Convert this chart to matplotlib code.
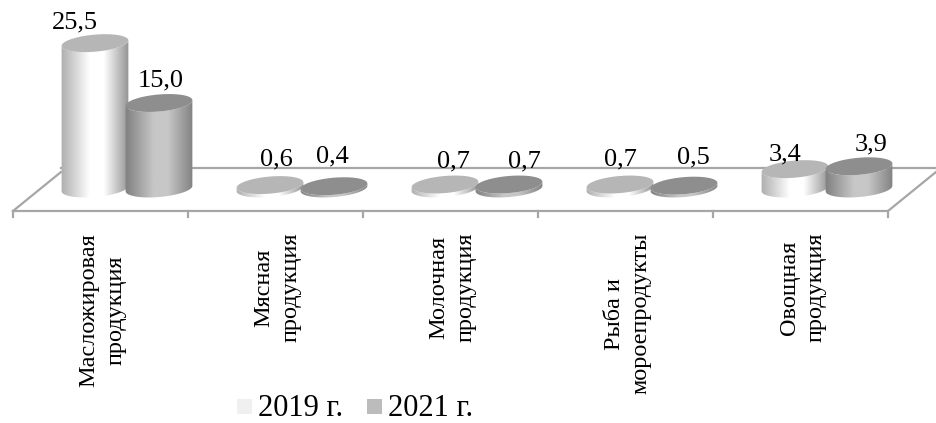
import numpy as np
import matplotlib
matplotlib.use('Agg')
import matplotlib.pyplot as plt
from matplotlib.patches import Polygon

categories = ['Масложировая\nпродукция', 'Мясная\nпродукция', 'Молочная\nпродукция',
              'Рыба и\nмороепродукты', 'Овощная\nпродукция']
series = ['2019 г.', '2021 г.']
v2019 = [25.5, 0.6, 0.7, 0.7, 3.4]
v2021 = [15.0, 0.4, 0.7, 0.5, 3.9]
labels2019 = ['25,5', '0,6', '0,7', '0,7', '3,4']
labels2021 = ['15,0', '0,4', '0,7', '0,5', '3,9']

plt.rcParams['font.family'] = ['Liberation Serif', 'DejaVu Serif']

# pixel scale of the fake 3d chart
x0 = 13.0
step = 175.0
floor_y = 188.5
px_per_unit = 5.7
rx, ry = 33.5, 8.5
tilt = np.deg2rad(-5)
shift = [-5.5, 58.5]

# label nudges (dx, dy of the baseline from cylinder top)
nudge2019 = [(-20, -15), (6, -20), (8, -17.5), (0, -19.5), (-10, -9)]
nudge2021 = [(2, -17), (-2, -24), (15, -17.5), (9, -22.6), (12, -16)]

fig = plt.figure(figsize=(9.36, 4.23), dpi=100)
ax = fig.add_axes([0, 0, 1, 1])
ax.set_xlim(0, 936)
ax.set_ylim(423, 0)
ax.axis('off')

grey = '#a6a6a6'
# floor
ax.plot([x0, x0 + 5 * step, 936], [211, 211, 172], color=grey, lw=1.6, zorder=1)
ax.plot([x0, 61], [211, 172], color=grey, lw=1.6, zorder=1)
ax.plot([61, 936], [168, 168], color=grey, lw=1.6, zorder=1)
for i in range(6):
    ax.plot([x0 + i * step] * 2, [211, 217], color=grey, lw=1.6, zorder=1)


def ellipse(cx, cy, t):
    x = rx * np.cos(t)
    y = ry * np.sin(t)
    return (cx + x * np.cos(tilt) - y * np.sin(tilt),
            cy + x * np.sin(tilt) + y * np.cos(tilt))


def cylinder(cx, h, side_l, side_r, mid, top, z):
    t = np.linspace(0, 2 * np.pi, 100)
    ty = floor_y - h
    tlow = np.linspace(np.pi, 0, 60)
    bx, by = ellipse(cx, floor_y, tlow)
    ux, uy = ellipse(cx, ty, tlow[::-1])
    body = Polygon(np.column_stack([np.r_[bx, ux], np.r_[by, uy]]), closed=True,
                   fc='none', ec='none', zorder=z)
    ax.add_patch(body)
    g = np.linspace(0, 1, 256)
    shade = np.interp(g, [0, 0.42, 0.62, 1], [side_l, mid, mid, side_r])
    im = ax.imshow(shade[None, :], extent=[cx - rx - 1, cx + rx + 1, floor_y + ry + 2, ty - ry - 6],
                   cmap='gray', vmin=0, vmax=1, aspect='auto', zorder=z, interpolation='bilinear')
    im.set_clip_path(body)
    ex, ey = ellipse(cx, ty, t)
    ax.add_patch(Polygon(np.column_stack([ex, ey]), closed=True, fc=top, ec='none', zorder=z + 0.1))


for i in range(len(categories)):
    left = x0 + i * step + step / 2 + shift[0]
    right = x0 + i * step + step / 2 + shift[1]
    h1 = v2019[i] * px_per_unit
    h2 = v2021[i] * px_per_unit
    cylinder(left, h1, 0.68, 0.56, 1.0, '#b6b6b6', 2 + i)
    cylinder(right, h2, 0.50, 0.50, 0.78, '#8e8e8e', 2.5 + i)
    ax.text(left + nudge2019[i][0], floor_y - h1 + nudge2019[i][1], labels2019[i],
            fontsize=19, ha='center', va='baseline', zorder=20)
    ax.text(right + nudge2021[i][0], floor_y - h2 + nudge2021[i][1], labels2021[i],
            fontsize=19, ha='center', va='baseline', zorder=20)
    ax.text(x0 + i * step + step / 2 + 2, 233, categories[i], rotation=90, fontsize=17.5,
            ha='center', va='top', ma='center', linespacing=1.36, rotation_mode='default')

# legend
ax.fill([237, 252, 252, 237], [399, 399, 414, 414], color='#f0f0f0', lw=0)
ax.fill([367, 382, 382, 367], [399, 399, 414, 414], color='#bcbcbc', lw=0)
ax.text(258, 416, series[0], fontsize=22, va='baseline')
ax.text(388, 416, series[1], fontsize=22, va='baseline')

fig.savefig('out.png', dpi=100)
